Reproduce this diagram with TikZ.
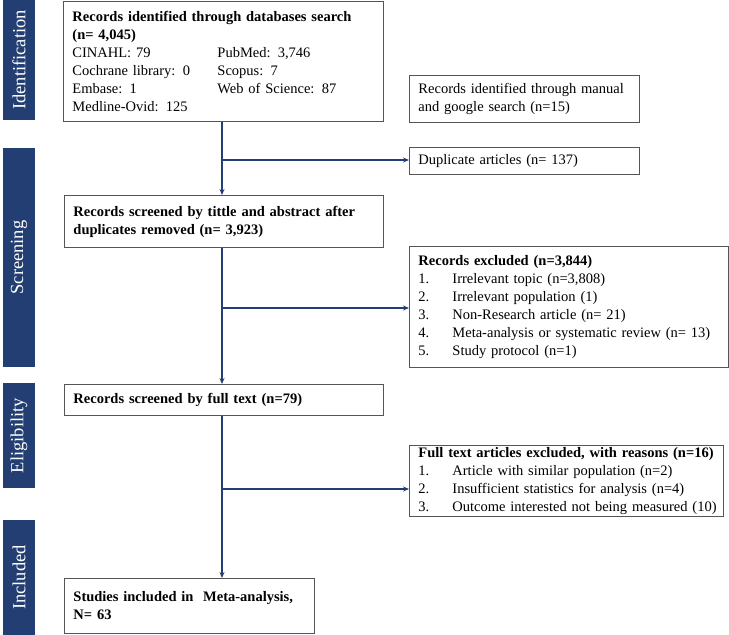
\documentclass[tikz,border=0pt]{standalone}
\usepackage{fontspec}
\setmainfont{Liberation Serif}
\usetikzlibrary{arrows.meta}
\definecolor{navy}{RGB}{35,62,114}
\definecolor{edgegray}{RGB}{85,85,85}
\begin{document}
\begin{tikzpicture}[x=1pt,y=-1pt,
  box/.style={draw=edgegray, line width=0.9pt, fill=white, anchor=north west, align=left,
    inner xsep=9pt, inner ysep=0pt, font=\fontsize{14.5}{18}\selectfont},
  bar/.style={fill=navy, text=white, rotate=90, inner sep=0pt, minimum height=32pt,
    font=\fontsize{18.5}{22}\selectfont},
  arr/.style={draw=navy, line width=1.3pt, -{Stealth[length=6pt,width=5pt]}}]
\useasboundingbox (0,0) rectangle (729,635);

% phase bars
\node[bar, minimum width=120pt] (pid) at (19,60) {Identification};
\node[bar, minimum width=219pt] (psc) at (19,257.5) {Screening};
\node[bar, minimum width=105pt] (pel) at (19,435.5) {Eligibility};
\node[bar, minimum width=115pt] (pin) at (19,577.5) {Included};

% boxes
\node[box, text width=302pt, minimum height=120pt] (b1) at (63,1)
 {\textbf{Records identified through databases search}\\
  \textbf{(n= 4,045)}\\
  \makebox[145pt][l]{CINAHL: 79}PubMed: 3,746\\
  \makebox[145pt][l]{Cochrane library: 0}Scopus: 7\\
  \makebox[145pt][l]{Embase: 1}Web of Science: 87\\
  Medline-Ovid: 125};

\node[box, text width=212pt, minimum height=47pt] (man) at (409,75)
 {Records identified through manual\\ and google search (n=15)};

\node[box, text width=212pt, minimum height=27pt] (dup) at (409,147)
 {Duplicate articles (n= 137)};

\node[box, text width=301pt, minimum height=52pt] (b2) at (64,195)
 {\textbf{Records screened by tittle and abstract after}\\
  \textbf{duplicates removed (n= 3,923)}};

\node[box, text width=301pt, minimum height=121pt] (rex) at (409,246)
 {\mbox{\textbf{Records excluded (n=3,844)}}\\
  \mbox{\makebox[34pt][l]{1.}Irrelevant topic (n=3,808)}\\
  \mbox{\makebox[34pt][l]{2.}Irrelevant population (1)}\\
  \mbox{\makebox[34pt][l]{3.}Non-Research article (n= 21)}\\
  \mbox{\makebox[34pt][l]{4.}Meta-analysis or systematic review (n= 13)}\\
  \mbox{\makebox[34pt][l]{5.}Study protocol (n=1)}};

\node[box, text width=301pt, minimum height=31pt] (b3) at (64,384)
 {\textbf{Records screened by full text (n=79)}};

\node[box, text width=296pt, minimum height=71pt] (fex) at (409,445)
 {\mbox{\textbf{Full text articles excluded, with reasons (n=16)}}\\
  \mbox{\makebox[34pt][l]{1.}Article with similar population (n=2)}\\
  \mbox{\makebox[34pt][l]{2.}Insufficient statistics for analysis (n=4)}\\
  \mbox{\makebox[34pt][l]{3.}Outcome interested not being measured (10)}};

\node[box, text width=232pt, minimum height=55pt] (b4) at (64,578)
 {\textbf{Studies included in\ \ Meta-analysis,}\\
  \textbf{N= 63}};

% connectors
\coordinate (j1) at (222,160);
\coordinate (j2) at (222,308);
\coordinate (j3) at (222,489);
\draw[arr] (b1.south -| j1) -- (b2.north -| j1);
\draw[arr] (j1) -- (dup.west |- j1);
\draw[arr] (b2.south -| j2) -- (b3.north -| j2);
\draw[arr] (j2) -- (rex.west |- j2);
\draw[arr] (b3.south -| j3) -- (b4.north -| j3);
\draw[arr] (j3) -- (fex.west |- j3);
\end{tikzpicture}
\end{document}
